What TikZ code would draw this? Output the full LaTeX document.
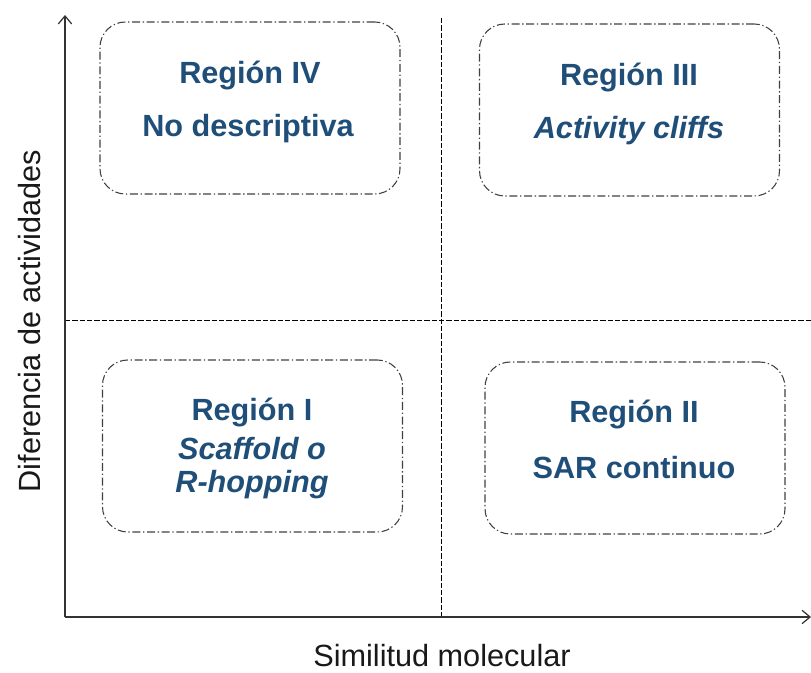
\documentclass[tikz,border=0pt]{standalone}
\usepackage{fontspec}
\setmainfont{Liberation Sans}
\usetikzlibrary{arrows.meta}
\definecolor{regblue}{HTML}{1F4E79}
\definecolor{boxgray}{HTML}{404040}
\tikzset{
  region/.style={draw=boxgray, line width=0.8pt, rounded corners=19pt,
    dash pattern=on 6pt off 2pt on 1pt off 2pt, minimum width=225pt, minimum height=129pt},
  rtext/.style={text=regblue, font=\fontsize{23}{27}\selectfont\bfseries, align=center, inner sep=0pt},
  axis/.style={line width=0.9pt, draw=black!80, -{Straight Barb[length=6pt,width=10pt]}},
  divider/.style={line width=0.6pt, dash pattern=on 4pt off 1.5pt},
  axlabel/.style={font=\fontsize{23}{27}\selectfont, inner sep=0pt, text=black!90}
}
\begin{document}
\begin{tikzpicture}[x=0.75pt,y=-0.75pt]
\useasboundingbox (0,0) rectangle (811,673);
% frame coordinates
\coordinate (o) at (65,617);
\coordinate (ytop) at (65,15);
\coordinate (xend) at (811,617);
\coordinate (vtop) at (441,18);
\coordinate (vbot) at (441,617);
\coordinate (hl) at (65,320);
\coordinate (hr) at (811,320);
% dividers
\draw[divider] (vtop) -- (vbot);
\draw[divider] (hl) -- (hr);
% axes
\draw[axis] (o) -- (ytop);
\draw[axis] (o) -- (xend);
% regions
\node[region] (r4) at (250,108) {};
\node[region] (r3) at (629.5,110) {};
\node[region] (r1) at (252.5,446) {};
\node[region] (r2) at (635,448) {};
% texts
\node[rtext] (t4a) at (250,76) {Región IV};
\node[rtext] (t4b) at (248,129) {No descriptiva};
\node[rtext] (t3a) at (629,78) {Región III};
\node[rtext] (t3b) at (629,131) {\itshape Activity cliffs};
\node[rtext] (t1a) at (252,413) {Región I};
\node[rtext] (t1b) at (252,449) {\itshape Scaffold o};
\node[rtext] (t1c) at (252,485) {\itshape R-hopping};
\node[rtext] (t2a) at (634,415) {Región II};
\node[rtext] (t2b) at (634,468) {SAR continuo};
% axis labels
\node[axlabel] (xl) at (442,656) {Similitud molecular};
\node[axlabel, rotate=90] (yl) at (30,321) {Diferencia de actividades};
\end{tikzpicture}
\end{document}
